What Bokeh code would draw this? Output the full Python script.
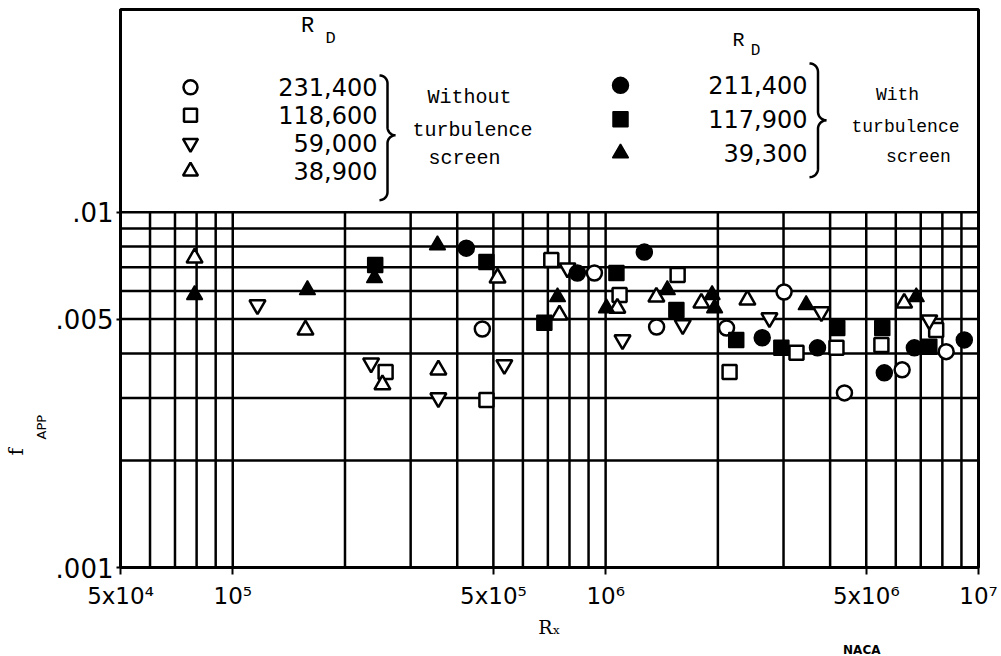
import math
import numpy as np
from bokeh.plotting import figure
from bokeh.models import Range1d, FixedTicker, Label, Title
from bokeh.embed import file_html
from bokeh.resources import INLINE

# ---------------- data ----------------
# Without turbulence screen
oc_x = [4.67e5, 9.33e5, 1.37e6, 2.11e6, 3.01e6, 4.37e6, 6.24e6, 8.19e6]
oc_y = [0.00469, 0.00674, 0.00475, 0.00472, 0.00596, 0.00310, 0.00360, 0.00405]

os_x = [2.57e5, 4.79e5, 7.15e5, 1.09e6, 1.56e6, 2.15e6, 3.25e6, 4.16e6, 5.49e6, 7.70e6]
os_y = [0.00355, 0.00296, 0.00733, 0.00585, 0.00665, 0.00355, 0.00402, 0.00415, 0.00423, 0.00466]

od_x = [1.165e5, 2.35e5, 3.56e5, 5.35e5, 7.90e5, 1.11e6, 1.61e6, 2.75e6, 3.79e6, 7.38e6]
od_y = [0.00548, 0.00376, 0.00300, 0.00372, 0.00696, 0.00437, 0.00482, 0.00504, 0.00524, 0.00497]

ot_x = [7.9e4, 1.567e5, 2.52e5, 3.56e5, 5.13e5, 7.52e5, 1.075e6, 1.368e6, 1.806e6, 2.40e6, 6.32e6]
ot_y = [0.00743, 0.00466, 0.00327, 0.00360, 0.00653, 0.00514, 0.00537, 0.00577, 0.00555, 0.00566, 0.00555]

# With turbulence screen
fc_x = [4.23e5, 8.40e5, 1.27e6, 2.63e6, 3.70e6, 5.59e6, 6.73e6, 9.16e6]
fc_y = [0.00792, 0.00674, 0.00772, 0.00443, 0.00415, 0.00353, 0.00415, 0.00437]

fs_x = [2.41e5, 4.79e5, 6.85e5, 1.069e6, 1.548e6, 2.24e6, 2.96e6, 4.18e6, 5.52e6, 7.38e6]
fs_y = [0.00710, 0.00724, 0.00488, 0.00674, 0.00530, 0.00437, 0.00415, 0.00472, 0.00472, 0.00418]

ft_x = [7.9e4, 1.586e5, 2.40e5, 3.54e5, 7.43e5, 1.005e6, 1.464e6, 1.93e6, 1.96e6, 3.45e6, 6.81e6]
ft_y = [0.00585, 0.00604, 0.00653, 0.00808, 0.00577, 0.00537, 0.00604, 0.00585, 0.00537, 0.00548, 0.00577]

left_labels = ["231,400", "118,600", "59,000", "38,900"]
right_labels = ["211,400", "117,900", "39,300"]

x_tick_vals = [5e4, 1e5, 5e5, 1e6, 5e6, 1e7]
x_tick_text = ["5x10\u2074", "10\u2075", "5x10\u2075", "10\u2076", "5x10\u2076", "10\u2077"]
y_tick_vals = [0.001, 0.005, 0.01]
y_tick_text = [".001", ".005", ".01"]

# ---------------- geometry ----------------
W, H = 1001, 656
FL, FR, FT, FB = 120, 978, 9, 568
Y01 = 212  # pixel row of 0.01
XMIN, XMAX = 5e4, 1e7
LX0, LX1 = math.log10(XMIN), math.log10(XMAX)
LY0 = -3.0
LY1 = -2.0 + (Y01 - FT) / (FB - Y01)


def X(px):
    return 10 ** (LX0 + (px - FL) / (FR - FL) * (LX1 - LX0))


def Y(py):
    return 10 ** (LY0 + (FB - py) / (FB - FT) * (LY1 - LY0))


p = figure(width=W, height=H, x_axis_type="log", y_axis_type="log",
           x_range=Range1d(XMIN, XMAX), y_range=Range1d(1e-3, 10 ** LY1),
           output_backend="svg", toolbar_location=None,
           min_border_left=FL, min_border_right=W - FR,
           min_border_top=FT, min_border_bottom=H - FB)
p.background_fill_color = "white"
p.border_fill_color = "white"
p.outline_line_color = "black"
p.outline_line_width = 3
p.xgrid.visible = False
p.ygrid.visible = False

# axes
p.xaxis.ticker = FixedTicker(ticks=x_tick_vals)
p.xaxis.major_label_overrides = {v: t for v, t in zip(x_tick_vals, x_tick_text)}
p.xaxis.major_label_text_font = "DejaVu Sans"
p.xaxis.major_label_text_font_size = "23px"
p.xaxis.major_label_text_color = "black"
p.xaxis.major_label_standoff = 8
p.xaxis.major_tick_out = 7
p.xaxis.major_tick_in = 0
p.xaxis.major_tick_line_width = 2
p.xaxis.minor_tick_line_color = None
p.xaxis.axis_line_width = 3
p.xaxis.axis_label = "R\u2093"
p.xaxis.axis_label_text_font = "DejaVu Serif"
p.xaxis.axis_label_text_font_style = "normal"
p.xaxis.axis_label_text_font_size = "19px"
p.xaxis.axis_label_text_color = "black"
p.xaxis.axis_label_standoff = 4

p.yaxis.ticker = FixedTicker(ticks=y_tick_vals)
p.yaxis.major_label_overrides = {v: t for v, t in zip(y_tick_vals, y_tick_text)}
p.yaxis.major_label_text_font = "DejaVu Sans"
p.yaxis.major_label_text_font_size = "26px"
p.yaxis.major_label_text_color = "black"
p.yaxis.major_label_standoff = 3
p.yaxis.major_tick_out = 4
p.yaxis.major_tick_in = 0
p.yaxis.major_tick_line_width = 2
p.yaxis.minor_tick_line_color = None
p.yaxis.axis_line_width = 3

# y-axis name f_APP (subscript placed in its own inner panel)
p.add_layout(Title(text="APP", align="left", offset=128, standoff=8,
                   text_font="DejaVu Sans", text_font_size="13px",
                   text_font_style="normal", text_color="black"), "left")
p.add_layout(Title(text="f", align="left", offset=112, standoff=0,
                   text_font="DejaVu Serif", text_font_size="20px",
                   text_font_style="normal", text_color="black"), "left")

# NACA emblem text (below the R_x label band)
p.add_layout(Title(text="NACA", align="right", offset=98, standoff=0,
                   text_font="DejaVu Sans", text_font_size="12px",
                   text_font_style="bold", text_color="black"), "below")

# grid lines (log paper) inside the data region only
gx = [m * 10 ** e for e in (4, 5, 6) for m in range(1, 10) if XMIN < m * 10 ** e < XMAX]
gy = [m * 1e-3 for m in range(2, 11)]
p.segment(x0=gx, y0=[1e-3] * len(gx), x1=gx, y1=[1e-2] * len(gx), line_color="black", line_width=2.5)
p.segment(x0=[XMIN] * len(gy), y0=gy, x1=[XMAX] * len(gy), y1=gy, line_color="black", line_width=2.5)

# data markers
open_kw = dict(fill_color="white", line_color="black", line_width=2.5)
fill_kw = dict(fill_color="black", line_color="black", line_width=1.5)
series = [
    (oc_x, oc_y, "circle", 15, open_kw),
    (os_x, os_y, "square", 14, open_kw),
    (od_x, od_y, "inverted_triangle", 16, open_kw),
    (ot_x, ot_y, "triangle", 16, open_kw),
    (fc_x, fc_y, "circle", 16, fill_kw),
    (fs_x, fs_y, "square", 15, fill_kw),
    (ft_x, ft_y, "triangle", 16, fill_kw),
]
for xs, ys, mk, sz, kw in series:
    p.scatter(x=xs, y=ys, marker=mk, size=sz, **kw)

# ---------------- legend area ----------------
sans = "DejaVu Sans"
serif = "Liberation Mono"


def lab(px, py, text, size, font=sans, align="center", style="normal"):
    p.add_layout(Label(x=X(px), y=Y(py), text=text,
                       text_font=font, text_font_size=f"{size}px", text_font_style=style,
                       text_align=align, text_baseline="middle", text_color="black"))


# left block
lab(307, 26, "R", 22, serif)
lab(330, 38, "D", 17, serif)
left_rows = [87, 115, 143, 171]
left_mk = [("circle", 14, open_kw), ("square", 13, open_kw),
           ("inverted_triangle", 15, open_kw), ("triangle", 15, open_kw)]
for row, (mk, sz, kw), t in zip(left_rows, left_mk, left_labels):
    p.scatter(x=[X(190)], y=[Y(row)], marker=mk, size=sz, **kw)
    lab(377, row, t, 24, sans, align="right")
lab(469, 97, "Without", 20, serif)
lab(472, 130, "turbulence", 20, serif)
lab(464, 158, "screen", 20, serif)

# right block
lab(738, 40, "R", 20, serif)
lab(755, 51, "D", 16, serif)
right_rows = [85, 119, 153]
right_mk = [("circle", 16, fill_kw), ("square", 15, fill_kw), ("triangle", 16, fill_kw)]
for row, (mk, sz, kw), t in zip(right_rows, right_mk, right_labels):
    p.scatter(x=[X(620)], y=[Y(row)], marker=mk, size=sz, **kw)
    lab(807, row, t, 24, sans, align="right")
lab(897, 95, "With", 18, serif)
lab(905, 127, "turbulence", 18, serif)
lab(918, 157, "screen", 18, serif)


def brace(bx, w, yt, ym, yb):
    r = w / 2.0
    t = np.linspace(0, np.pi / 2, 12)
    xs, ys = [], []
    xs += list(bx + r * np.sin(t)); ys += list(yt + r - r * np.cos(t))
    xs += list(bx + 2 * r - r * np.cos(t)); ys += list(ym - r + r * np.sin(t))
    xs += list(bx + 2 * r - r * np.sin(t)); ys += list(ym + r - r * np.cos(t))
    xs += list(bx + r * np.cos(t)); ys += list(yb - r + r * np.sin(t))
    p.line(x=[X(v) for v in xs], y=[Y(v) for v in ys], line_color="black", line_width=2.5)


brace(379, 16, 75, 135, 200)
brace(809, 17, 63, 120, 177)

open("out.html", "w").write(file_html(p, INLINE))
